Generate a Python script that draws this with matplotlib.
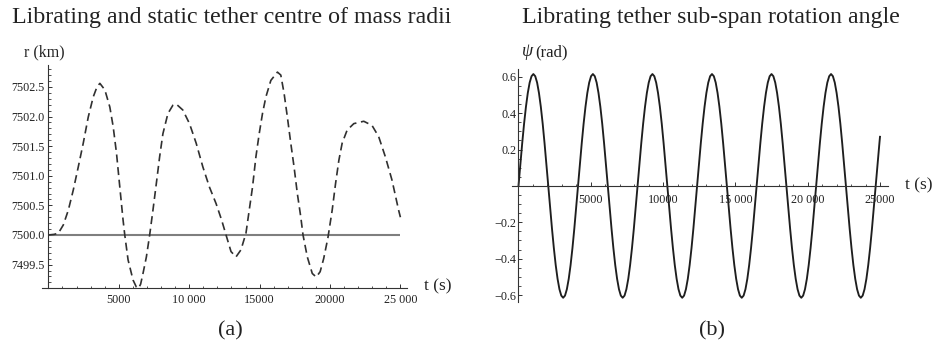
import matplotlib
matplotlib.use("Agg")
import matplotlib.pyplot as plt
from matplotlib.ticker import FixedLocator, MultipleLocator

plt.rcParams['font.family'] = ['Liberation Serif', 'DejaVu Serif']

# ---- data: panel (a) librating centre of mass radius (km) ----
t_r = [0, 400, 707, 1060, 1415, 1768, 2122, 2475, 2829, 3183, 3450, 3656, 4010,
       4363, 4600, 4837, 5071, 5304, 5424, 5658, 6011, 6250, 6400, 6550, 6718,
       6959, 7192, 7426, 7666, 7900, 8133, 8487, 8840, 9081, 9547, 10021, 10495,
       10969, 11436, 11909, 12306, 12617, 12970, 13324, 13677, 14031, 14264,
       14498, 14738, 14972, 15205, 15445, 15799, 16266, 16506, 16740, 16973,
       17214, 17447, 17680, 17921, 18084, 18388, 18741, 19024, 19300, 19550,
       19850, 20156, 20396, 20629, 20863, 21216, 21690, 22397, 22984, 23458,
       23932, 24399, 24873, 25000]
r_lib = [7500.00, 7500.01, 7500.03, 7500.17, 7500.42, 7500.76, 7501.15, 7501.55,
         7501.99, 7502.33, 7502.50, 7502.56, 7502.45, 7502.16, 7501.83, 7501.38,
         7500.81, 7500.25, 7500.00, 7499.58, 7499.24, 7499.12, 7499.10, 7499.17,
         7499.35, 7499.63, 7500.00, 7500.42, 7500.87, 7501.32, 7501.71, 7502.05,
         7502.19, 7502.21, 7502.11, 7501.88, 7501.55, 7501.15, 7500.81, 7500.53,
         7500.25, 7500.00, 7499.72, 7499.63, 7499.75, 7500.03, 7500.42, 7500.81,
         7501.32, 7501.71, 7502.05, 7502.33, 7502.61, 7502.75, 7502.70, 7502.39,
         7501.99, 7501.55, 7501.15, 7500.70, 7500.31, 7500.00, 7499.63, 7499.35,
         7499.29, 7499.38, 7499.60, 7499.95, 7500.42, 7500.87, 7501.26, 7501.55,
         7501.77, 7501.88, 7501.92, 7501.85, 7501.66, 7501.32, 7500.93, 7500.42,
         7500.30]
t_static = [0, 25000]
r_static = [7500.0, 7500.0]

# ---- data: panel (b) sub-span rotation angle (rad) ----
t_psi = [0, 129, 257, 386, 515, 643, 772, 901, 1029, 1158, 1287, 1415, 1544, 1673, 1801, 1930,
         2059, 2187, 2316, 2445, 2573, 2702, 2831, 2959, 3088, 3217, 3345, 3474, 3602, 3731, 3860, 3988,
         4117, 4246, 4374, 4503, 4632, 4760, 4889, 5018, 5146, 5275, 5404, 5532, 5661, 5790, 5918, 6047,
         6176, 6304, 6433, 6562, 6690, 6819, 6948, 7076, 7205, 7334, 7462, 7591, 7719, 7848, 7977, 8105,
         8234, 8363, 8491, 8620, 8749, 8877, 9006, 9135, 9263, 9392, 9521, 9649, 9778, 9907, 10035, 10164,
         10293, 10421, 10550, 10679, 10807, 10936, 11065, 11193, 11322, 11451, 11579, 11708, 11836, 11965, 12094, 12222,
         12351, 12480, 12608, 12737, 12866, 12994, 13123, 13252, 13380, 13509, 13638, 13766, 13895, 14024, 14152, 14281,
         14410, 14538, 14667, 14796, 14924, 15053, 15182, 15310, 15439, 15568, 15696, 15825, 15953, 16082, 16211, 16339,
         16468, 16597, 16725, 16854, 16983, 17111, 17240, 17369, 17497, 17626, 17755, 17883, 18012, 18141, 18269, 18398,
         18527, 18655, 18784, 18913, 19041, 19170, 19299, 19427, 19556, 19685, 19813, 19942, 20070, 20199, 20328, 20456,
         20585, 20714, 20842, 20971, 21100, 21228, 21357, 21486, 21614, 21743, 21872, 22000, 22129, 22258, 22386, 22515,
         22644, 22772, 22901, 23030, 23158, 23287, 23416, 23544, 23673, 23802, 23930, 24059, 24187, 24316, 24445, 24573,
         24702, 24831, 24959, 25000]
psi = [0.0, 0.120, 0.235, 0.342, 0.435, 0.511, 0.568, 0.603, 0.615, 0.603, 0.568, 0.511, 0.435, 0.342, 0.235, 0.120,
       0.0, -0.120, -0.235, -0.342, -0.435, -0.511, -0.568, -0.603, -0.615, -0.603, -0.568, -0.511, -0.435, -0.342, -0.235, -0.120,
       0.0, 0.120, 0.235, 0.342, 0.435, 0.511, 0.568, 0.603, 0.615, 0.603, 0.568, 0.511, 0.435, 0.342, 0.235, 0.120,
       0.0, -0.120, -0.235, -0.342, -0.435, -0.511, -0.568, -0.603, -0.615, -0.603, -0.568, -0.511, -0.435, -0.342, -0.235, -0.120,
       0.0, 0.120, 0.235, 0.342, 0.435, 0.511, 0.568, 0.603, 0.615, 0.603, 0.568, 0.511, 0.435, 0.342, 0.235, 0.120,
       0.0, -0.120, -0.235, -0.342, -0.435, -0.511, -0.568, -0.603, -0.615, -0.603, -0.568, -0.511, -0.435, -0.342, -0.235, -0.120,
       0.0, 0.120, 0.235, 0.342, 0.435, 0.511, 0.568, 0.603, 0.615, 0.603, 0.568, 0.511, 0.435, 0.342, 0.235, 0.120,
       0.0, -0.120, -0.235, -0.342, -0.435, -0.511, -0.568, -0.603, -0.615, -0.603, -0.568, -0.511, -0.435, -0.342, -0.235, -0.120,
       0.0, 0.120, 0.235, 0.342, 0.435, 0.511, 0.568, 0.603, 0.615, 0.603, 0.568, 0.511, 0.435, 0.342, 0.235, 0.120,
       0.0, -0.120, -0.235, -0.342, -0.435, -0.511, -0.568, -0.603, -0.615, -0.603, -0.568, -0.511, -0.435, -0.342, -0.235, -0.120,
       0.0, 0.120, 0.235, 0.342, 0.435, 0.511, 0.568, 0.603, 0.615, 0.603, 0.568, 0.511, 0.435, 0.342, 0.235, 0.120,
       0.0, -0.120, -0.235, -0.342, -0.435, -0.511, -0.568, -0.603, -0.615, -0.603, -0.568, -0.511, -0.435, -0.342, -0.235, -0.120,
       0.0, 0.120, 0.235, 0.270]

# ---- tick labels ----
xt = [5000, 10000, 15000, 20000, 25000]
xt_lab_a = ["5000", "10 000", "15000", "20000", "25 000"]
xt_lab_b = ["5000", "10000", "15 000", "20 000", "25000"]
yt_a = [7499.5, 7500.0, 7500.5, 7501.0, 7501.5, 7502.0, 7502.5]
yt_lab_a = ["7499.5", "7500.0", "7500.5", "7501.0", "7501.5", "7502.0", "7502.5"]
yt_b = [-0.6, -0.4, -0.2, 0.2, 0.4, 0.6]
yt_lab_b = ["\u22120.6", "\u22120.4", "\u22120.2", "0.2", "0.4", "0.6"]
yminor_b = [-0.55, -0.5, -0.45, -0.35, -0.3, -0.25, -0.15, -0.1, -0.05,
            0.05, 0.1, 0.15, 0.25, 0.3, 0.35, 0.45, 0.5, 0.55]

W, H = 932, 347
fig = plt.figure(figsize=(W / 100, H / 100), dpi=100)

axc = '#333333'
txtc = '#222222'


def px_axes(x0, y0, x1, y1):
    return fig.add_axes([x0 / W, 1 - y1 / H, (x1 - x0) / W, (y1 - y0) / H])


def style(ax, pad_x, pad_y):
    for s in ['top', 'right']:
        ax.spines[s].set_visible(False)
    for s in ['left', 'bottom']:
        ax.spines[s].set_color(axc)
        ax.spines[s].set_linewidth(0.8)
    ax.tick_params(which='major', direction='in', length=3.2, width=0.7,
                   color=axc, labelsize=8.7, labelcolor=txtc)
    ax.tick_params(which='minor', direction='in', length=1.8, width=0.6, color=axc)
    ax.tick_params(axis='x', pad=pad_x)
    ax.tick_params(axis='y', pad=pad_y)
    ax.patch.set_alpha(0)


# ---- panel (a) ----
ax1 = px_axes(41.7, 65, 407, 287.7)
ax1.plot(t_static, r_static, color='#7f7f7f', lw=1.5, solid_capstyle='butt')
ax1.plot(t_r, r_lib, color='#303030', lw=1.2, dashes=(4.8, 2.8))
ax1.set_xlim(-476, 25469)
ax1.set_ylim(7499.11, 7502.87)
ax1.spines['left'].set_position(('data', 0))
style(ax1, 4.5, 2.5)
ax1.set_xticks(xt)
ax1.set_xticklabels(xt_lab_a)
ax1.xaxis.set_minor_locator(MultipleLocator(1000))
ax1.set_yticks(yt_a)
ax1.set_yticklabels(yt_lab_a)
ax1.yaxis.set_minor_locator(MultipleLocator(0.1))

# ---- panel (b) ----
ax2 = px_axes(511.7, 69, 888.3, 301.7)
ax2.plot(t_psi, psi, color='#1e1e1e', lw=1.35, solid_joinstyle='round')
ax2.set_xlim(-470, 25574)
ax2.set_ylim(-0.6366, 0.6427)
ax2.spines['left'].set_position(('data', 0))
ax2.spines['bottom'].set_position(('data', 0))
style(ax2, 5.5, 1.5)
ax2.set_xticks(xt)
ax2.set_xticklabels(xt_lab_b)
ax2.xaxis.set_minor_locator(MultipleLocator(1000))
ax2.set_yticks(yt_b)
ax2.set_yticklabels(yt_lab_b)
ax2.yaxis.set_minor_locator(FixedLocator(yminor_b))


def ftext(x, y, s, **kw):
    fig.text(x / W, 1 - y / H, s, color=txtc, **kw)


ftext(232, 17, "Librating and static tether centre of mass radii",
      fontsize=17.2, ha='center', va='center')
ftext(711, 17, "Librating tether sub-span rotation angle",
      fontsize=17.2, ha='center', va='center')
ftext(44.5, 52, "r (km)", fontsize=11.5, ha='center', va='center')
ftext(521.5, 52, "\u03c8", fontsize=13, fontstyle='italic', ha='left', va='center')
ftext(535, 52, "(rad)", fontsize=12, ha='left', va='center')
ftext(424, 286, "t (s)", fontsize=12.5, ha='left', va='center')
ftext(905, 185, "t (s)", fontsize=12.5, ha='left', va='center')
ftext(230, 331, "(a)", fontsize=16, ha='center', va='center')
ftext(711.5, 331, "(b)", fontsize=16, ha='center', va='center')

fig.savefig("out.png", dpi=100)
